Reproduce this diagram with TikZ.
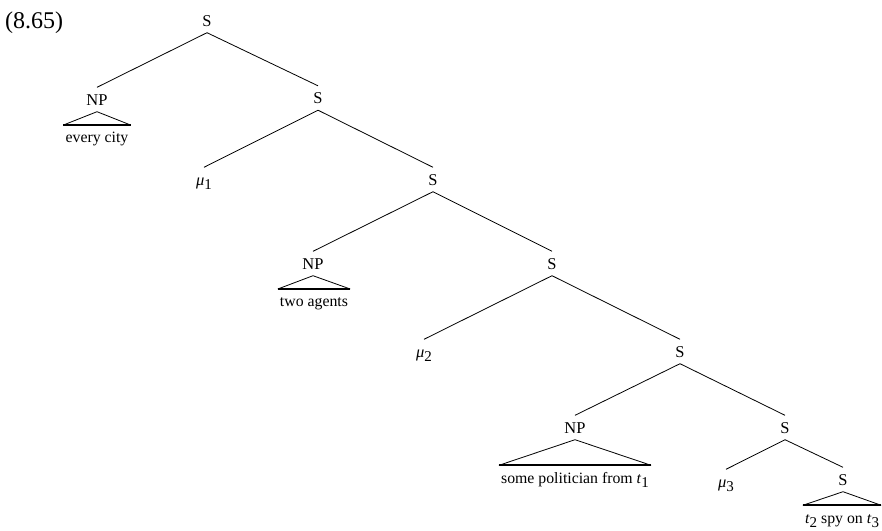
\documentclass[tikz,border=0pt]{standalone}
\usepackage{fontspec}
\setmainfont{Liberation Serif}
\newcommand\lowsub[1]{\raisebox{-4pt}{\fontsize{15}{15}\selectfont #1}}
\begin{document}
\begin{tikzpicture}[x=1pt,y=-1pt,
  cat/.style={anchor=base,inner xsep=0pt,inner ysep=6.5pt,text height=11pt,text depth=0pt,font=\fontsize{16.5}{19}\selectfont},
  leaf/.style={anchor=base,inner xsep=2pt,inner ysep=6pt,text height=11.5pt,text depth=0pt,font=\fontsize{15.8}{19}\selectfont},
  edge/.style={line width=0.8pt},
  basebar/.style={line width=2pt}]
\useasboundingbox (0,0) rectangle (882,530);
\node[anchor=base west,inner sep=0pt,font=\fontsize{24}{27}\selectfont] (num) at (5,28.3) {(8.65)};
\node[cat] (root) at (207,26) {S};
\node[cat] (np1) at (97,105) {NP};
\node[cat] (s2) at (318,103.5) {S};
\node[cat] (mu1) at (204,185) {\itshape μ\upshape\lowsub{1}};
\node[cat] (s3) at (433,185) {S};
\node[cat] (np2) at (313,269) {NP};
\node[cat] (s4) at (552,269) {S};
\node[cat] (mu2) at (424,357) {\itshape μ\upshape\lowsub{2}};
\node[cat] (s5) at (680,357) {S};
\node[cat] (np3) at (575,433) {NP};
\node[cat] (s6) at (785,433) {S};
\node[cat] (mu3) at (726,487) {\itshape μ\upshape\lowsub{3}};
\node[cat] (s7) at (843,485) {S};
\node[leaf] (l1) at (97,142.7) {every city};
\node[leaf] (l2) at (314,306.7) {two agents};
\node[leaf] (l3) at (575,483) {some politician from \textit{t}\lowsub{1}};
\node[leaf] (l4) at (842,523) {\textit{t}\lowsub{2} spy on \textit{t}\lowsub{3}};
\draw[edge] (root.south) -- (np1.north);
\draw[edge] (root.south) -- (s2.north);
\draw[edge] (s2.south) -- (mu1.north);
\draw[edge] (s2.south) -- (s3.north);
\draw[edge] (s3.south) -- (np2.north);
\draw[edge] (s3.south) -- (s4.north);
\draw[edge] (s4.south) -- (mu2.north);
\draw[edge] (s4.south) -- (s5.north);
\draw[edge] (s5.south) -- (np3.north);
\draw[edge] (s5.south) -- (s6.north);
\draw[edge] (s6.south) -- (mu3.north);
\draw[edge] (s6.south) -- (s7.north);
\foreach \p/\l in {np1/l1,np2/l2,np3/l3,s7/l4}{
  \draw[edge] (\l.north west) -- (\p.south) -- (\l.north east);
  \draw[basebar] (\l.north west) -- (\l.north east);
}
\end{tikzpicture}
\end{document}
